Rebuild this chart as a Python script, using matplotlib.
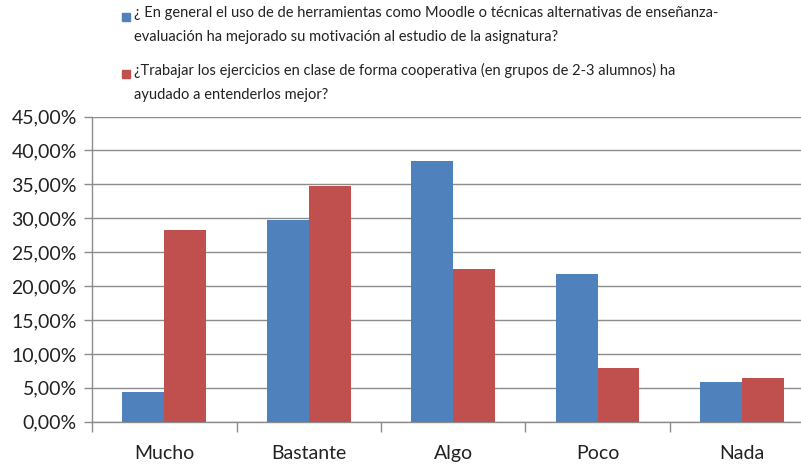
import numpy as np
import matplotlib
matplotlib.use("Agg")
import matplotlib.pyplot as plt
from matplotlib.patches import Rectangle
from matplotlib.ticker import FuncFormatter

# data (percent)
categories = ["Mucho", "Bastante", "Algo", "Poco", "Nada"]
moodle = [4.4, 29.8, 38.5, 21.8, 5.9]
cooperativo = [28.3, 34.8, 22.5, 7.9, 6.5]
series_labels = [
    "¿ En general el uso de de herramientas como Moodle o técnicas alternativas de enseñanza-\nevaluación ha mejorado su motivación al estudio de la asignatura?",
    "¿Trabajar los ejercicios en clase de forma cooperativa (en grupos de 2-3 alumnos) ha\nayudado a entenderlos mejor?",
]
colors = ["#4F81BD", "#C0504D"]

plt.rcParams["font.family"] = ["Lato", "DejaVu Sans"]

fig = plt.figure(figsize=(8.01, 4.66), dpi=100)
ax = fig.add_axes([0.115, 0.095, 0.9014, 0.655])

x = np.arange(len(categories))
w = 0.29
ax.bar(x - w / 2, moodle, w, color=colors[0], zorder=3)
ax.bar(x + w / 2, cooperativo, w, color=colors[1], zorder=3)

ax.set_xlim(-0.5, len(categories) - 0.5)
ax.set_ylim(0, 45)
ax.set_yticks(np.arange(0, 46, 5))
ax.yaxis.set_major_formatter(FuncFormatter(lambda v, p: f"{v:.2f}%".replace(".", ",")))
ax.yaxis.grid(True, color="#8c8c8c", linewidth=1.0, zorder=0)
ax.set_axisbelow(True)

# category labels centred, tick marks between categories
ax.set_xticks(np.arange(-0.5, len(categories), 1.0))
ax.set_xticklabels([])
ax.set_xticks(x, minor=True)
ax.set_xticklabels(categories, minor=True, fontsize=14, color="#222222")
ax.tick_params(axis="x", which="minor", length=0, pad=17)
ax.tick_params(axis="x", which="major", length=7, color="#8c8c8c", width=1)
ax.tick_params(axis="y", length=6, color="#8c8c8c", width=1, labelsize=14,
               labelcolor="#222222", pad=5)

for side in ["top", "right"]:
    ax.spines[side].set_visible(False)
for side in ["left", "bottom"]:
    ax.spines[side].set_color("#8c8c8c")
    ax.spines[side].set_linewidth(1)

# legend on top, square aligned with first text line
for i, (lab, c) in enumerate(zip(series_labels, colors)):
    ytop = 1 - (13 + 57 * i) / 466
    fig.patches.append(Rectangle((122 / 801, ytop - 8 / 466), 8 / 801, 8 / 466,
                                 transform=fig.transFigure, color=c))
    fig.text(134 / 801, ytop + 7 / 466, lab, fontsize=10.5, va="top", ha="left",
             color="#222222", linespacing=1.9)

fig.savefig("out.png", dpi=100)
